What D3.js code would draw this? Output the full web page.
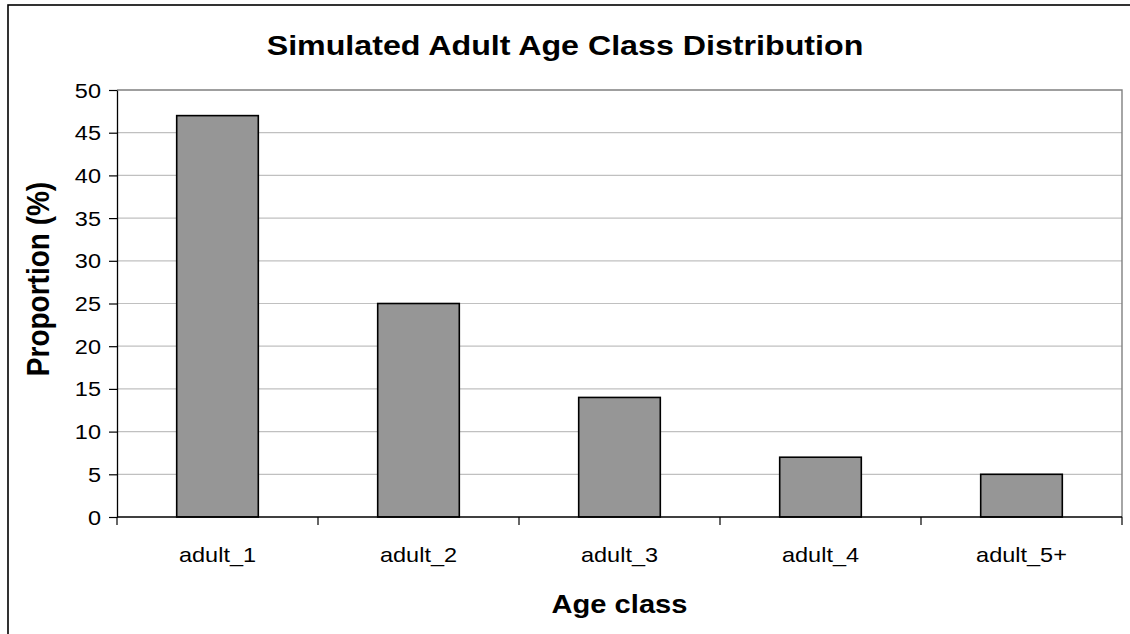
<!DOCTYPE html>
<html>
<head>
<meta charset="utf-8">
<script src="https://cdn.jsdelivr.net/npm/d3@7"></script>
<style>
  html, body { margin: 0; padding: 0; background: #fff; }
  svg { display: block; font-family: "Liberation Sans", Arial, sans-serif; }
</style>
</head>
<body>
<svg id="chart" width="1130" height="634"></svg>
<script>
// Age classes and their simulated share of the adult population (%)
const categories = ["adult_1", "adult_2", "adult_3", "adult_4", "adult_5+"];
const proportions = [47, 25, 14, 7, 5];
const yTicks = [0, 5, 10, 15, 20, 25, 30, 35, 40, 45, 50];
const titleText = "Simulated Adult Age Class Distribution";
const xTitle = "Age class";
const yTitle = "Proportion (%)";

const W = 1130, H = 634;
const plot = { left: 117, right: 1122, top: 90, bottom: 517 };
const sx = 1.12; // horizontal stretch of glyphs

const svg = d3.select("#chart");

// outer chart frame (runs off the right and bottom edges)
svg.append("rect")
  .attr("x", 8).attr("y", 5)
  .attr("width", W + 20).attr("height", H + 20)
  .attr("fill", "#fff").attr("stroke", "#000").attr("stroke-width", 1.6);

const x = d3.scaleBand()
  .domain(categories)
  .range([plot.left, plot.right])
  .paddingInner(0.594)
  .paddingOuter(0.297);

const y = d3.scaleLinear()
  .domain([0, 50])
  .range([plot.bottom, plot.top]);

function stretchedText(g, tx, ty, txt, size, weight, anchor, stretch) {
  return g.append("text")
    .attr("transform", `translate(${tx},${ty}) scale(${stretch || sx},1)`)
    .attr("text-anchor", anchor || "middle")
    .attr("font-size", size)
    .attr("font-weight", weight || "normal")
    .attr("fill", "#000")
    .text(txt);
}

// horizontal gridlines
svg.append("g")
  .selectAll("line")
  .data(yTicks.filter(t => t > 0 && t < 50))
  .join("line")
  .attr("x1", plot.left).attr("x2", plot.right)
  .attr("y1", d => y(d)).attr("y2", d => y(d))
  .attr("stroke", "#c0c0c0").attr("stroke-width", 1.2);

// plot area border (top and right)
svg.append("path")
  .attr("d", `M${plot.left},${y(50)}H${plot.right}V${plot.bottom}`)
  .attr("fill", "none").attr("stroke", "#808080").attr("stroke-width", 1.4);

// bars
svg.append("g")
  .selectAll("rect")
  .data(categories.map((c, i) => ({ c, v: proportions[i] })))
  .join("rect")
  .attr("x", d => x(d.c))
  .attr("y", d => y(d.v))
  .attr("width", x.bandwidth())
  .attr("height", d => y(0) - y(d.v))
  .attr("fill", "#969696")
  .attr("stroke", "#000")
  .attr("stroke-width", 1.6);

// y axis
const yAxis = svg.append("g")
  .attr("transform", `translate(${plot.left},0)`)
  .call(d3.axisLeft(y).tickValues(yTicks).tickSize(8).tickSizeOuter(0).tickFormat(""));
yAxis.select(".domain").attr("stroke", "#000").attr("stroke-width", 1.3);
yAxis.selectAll(".tick line").attr("stroke", "#000").attr("stroke-width", 1.2);

const yLabels = svg.append("g");
yTicks.forEach(t => {
  stretchedText(yLabels, 101, y(t) + 7.5, String(t), 21, "normal", "end");
});

// x axis with ticks between categories
const step = x.step();
const xBounds = d3.range(categories.length + 1).map(i => plot.left + i * step);
svg.append("line")
  .attr("x1", plot.left).attr("x2", plot.right)
  .attr("y1", plot.bottom).attr("y2", plot.bottom)
  .attr("stroke", "#000").attr("stroke-width", 1.3);
svg.append("g")
  .selectAll("line")
  .data(xBounds)
  .join("line")
  .attr("x1", d => d).attr("x2", d => d)
  .attr("y1", plot.bottom).attr("y2", plot.bottom + 8)
  .attr("stroke", "#000").attr("stroke-width", 1.2);

const xLabels = svg.append("g");
categories.forEach(c => {
  stretchedText(xLabels, x(c) + x.bandwidth() / 2, 562, c, 21);
});

// titles
stretchedText(svg, W / 2, 55, titleText, 28, "bold", "middle", 1.15);
stretchedText(svg, (plot.left + plot.right) / 2, 613, xTitle, 26, "bold");

svg.append("text")
  .attr("transform", `translate(49,279) scale(${sx},1) rotate(-90)`)
  .attr("text-anchor", "middle")
  .attr("font-size", 28)
  .attr("font-weight", "bold")
  .text(yTitle);
</script>
</body>
</html>
